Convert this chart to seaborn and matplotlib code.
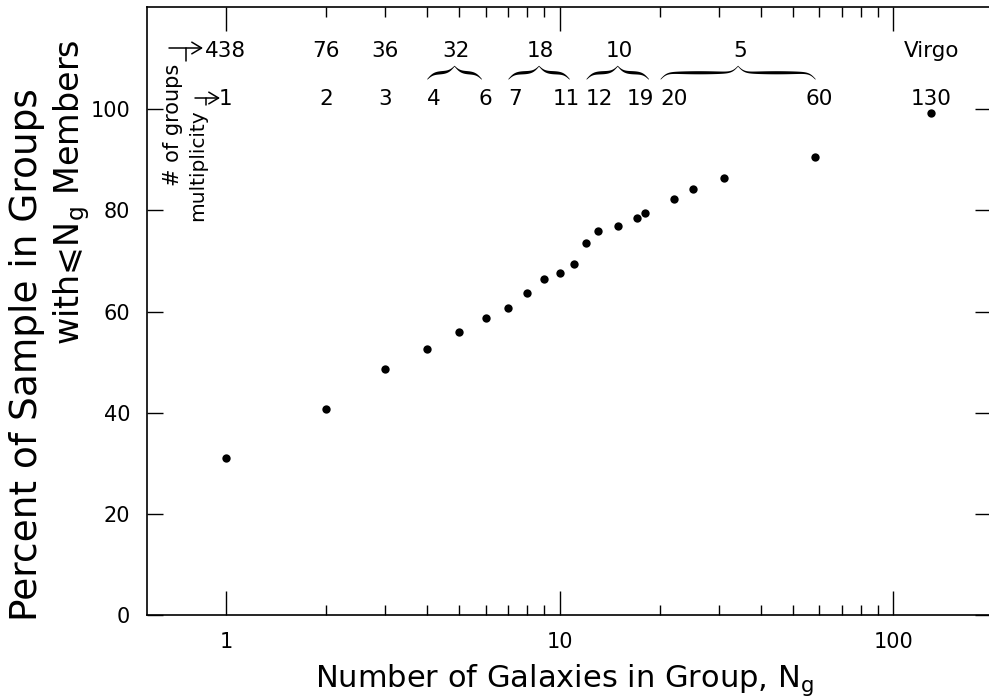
import numpy as np
import pandas as pd
import matplotlib
matplotlib.use("Agg")
import matplotlib.pyplot as plt
import seaborn as sns
from matplotlib.lines import Line2D
from matplotlib.patches import FancyArrowPatch

# Cumulative fraction of the sample in groups with <= Ng members
group_size = [1, 2, 3, 4, 5, 6, 7, 8, 9, 10, 11, 12, 13, 15, 17, 18, 22, 25, 31, 58, 130]
cum_percent = [31.0, 40.8, 48.7, 52.6, 55.9, 58.8, 60.7, 63.6, 66.5, 67.7, 69.4,
               73.6, 76.0, 77.0, 78.5, 79.5, 82.3, 84.3, 86.4, 90.5, 99.2]

# Number of groups in each multiplicity bin
bin_counts = ["438", "76", "36", "32", "18", "10", "5", "Virgo"]
bin_low = [1, 2, 3, 4, 7, 12, 20, 130]
bin_high = [1, 2, 3, 6, 11, 19, 60, 130]

x_ticks = [1, 10, 100]
x_tick_labels = ["1", "10", "100"]
x_minor = [2, 3, 4, 5, 6, 7, 8, 9, 20, 30, 40, 50, 60, 70, 80, 90]
y_ticks = [0, 20, 40, 60, 80, 100]
y_tick_labels = ["0", "20", "40", "60", "80", "100"]

sns.set_style("ticks")
plt.rcParams["font.family"] = ["DejaVu Sans"]
plt.rcParams["mathtext.fontset"] = "dejavusans"
plt.rcParams["text.color"] = "black"
plt.rcParams["axes.labelcolor"] = "black"
plt.rcParams["axes.edgecolor"] = "black"
plt.rcParams["xtick.color"] = "black"
plt.rcParams["ytick.color"] = "black"

W, H = 989, 700
fig = plt.figure(figsize=(W / 100, H / 100), dpi=100)
fig.patch.set_facecolor("white")
ax = fig.add_axes([147 / W, 85 / H, (991 - 147) / W, 608 / H])

df = pd.DataFrame({"Ng": group_size, "pct": cum_percent})
sns.scatterplot(data=df, x="Ng", y="pct", color="black", s=36, linewidth=0, ax=ax)

ax.set_xscale("log")
ax.set_xlim(0.58, 196)
ax.set_ylim(0, 120.2)

ax.set_xticks(x_ticks)
ax.set_xticklabels(x_tick_labels)
ax.set_xticks(x_minor, minor=True)
ax.set_xticklabels([], minor=True)
ax.set_yticks(y_ticks)
ax.set_yticklabels(y_tick_labels)
ax.yaxis.set_minor_locator(matplotlib.ticker.NullLocator())

for sp in ax.spines.values():
    sp.set_linewidth(1.2)
    sp.set_color("black")

ax.xaxis.set_tick_params(which="major", direction="in", length=17.5, width=1.0,
                         top=True, bottom=True, pad=12, labelsize=15)
ax.xaxis.set_tick_params(which="minor", direction="in", length=7, width=1.0,
                         top=True, bottom=True)
ax.yaxis.set_tick_params(which="major", direction="in", length=11.5, width=1.0,
                         left=True, right=True, pad=12, labelsize=15)

ax.set_xlabel("Number of Galaxies in Group, N$_{\\mathregular{g}}$", fontsize=22)
ax.xaxis.set_label_coords(0.495, -0.107)
ax.xaxis.label.set_va("center")

ax.set_ylabel("Percent of Sample in Groups", fontsize=27)
ax.yaxis.set_label_coords(-0.142, 0.4276)
ax.yaxis.label.set_va("center")
ax.text(-0.089, 0.695, "with\u2a7dN$_{\\mathregular{g}}$ Members", fontsize=24,
        rotation=90, ha="center", va="center", transform=ax.transAxes, clip_on=False)

# Group counts and multiplicity ranges along the top
row_count_y = 110.3
row_mult_y = 100.8
label_fs = 15.5
hi_labels = []
for cnt, lo, hi in zip(bin_counts, bin_low, bin_high):
    xc = np.sqrt(lo * hi)
    ax.text(xc, row_count_y, cnt, fontsize=label_fs, ha="center", va="baseline")
    if lo == hi:
        ax.text(lo, row_mult_y, str(lo), fontsize=label_fs, ha="center", va="baseline")
    else:
        ax.text(lo, row_mult_y, str(lo), fontsize=label_fs, ha="left", va="baseline")
        hi_labels.append(ax.text(hi, row_mult_y, str(hi), fontsize=label_fs,
                                 ha="center", va="baseline"))

# keep each range's upper label clear of the next range's lower label
fig.canvas.draw()
renderer = fig.canvas.get_renderer()
for t in hi_labels:
    hi = float(t.get_text())
    nxt = [lo for lo in bin_low if lo > hi]
    if not nxt:
        continue
    limit_px = ax.transData.transform((min(nxt), 0))[0] - 6
    bb = t.get_window_extent(renderer)
    if bb.x1 > limit_px:
        xdata = ax.transData.inverted().transform((limit_px, 0))[0]
        t.set_x(xdata)
        t.set_ha("right")


def draw_brace(lo, hi, y_arm, h=2.6, tmin=0.18, tmax=0.62):
    u = np.linspace(np.log10(lo), np.log10(hi), 401)
    s = (u - u[0]) / (u[-1] - u[0])
    x0 = ax.transData.transform((lo, 0))[0]
    x1 = ax.transData.transform((hi, 0))[0]
    beta = 0.32 * (x1 - x0)
    sh = np.minimum(s, 1 - s)
    yh = 1 / (1 + np.exp(-beta * sh)) + 1 / (1 + np.exp(-beta * (sh - 0.5)))
    y = y_arm + (yh - 1) * h
    thick = tmin + (tmax - tmin) * np.sin(np.pi * sh / 0.5)
    ax.fill_between(10 ** u, y - thick / 2, y + thick / 2, color="black", lw=0)


for lo, hi in zip(bin_low, bin_high):
    if lo != hi:
        draw_brace(lo, hi * 0.97, 107.3)


# Row captions with bracket arrows
def fp(x, y):
    return (x / W, 1 - y / H)


fig.text(*fp(173, 125), "# of groups", rotation=90, ha="center", va="center", fontsize=15)
fig.text(*fp(198, 165), "multiplicity", rotation=90, ha="center", va="center", fontsize=14.5)

for (xa, xc, ya, yt, xe) in [(169, 186, 48, 61, 203), (195, 206, 98, 105, 220)]:
    pts = [fp(xa, ya), fp(xc, ya), fp(xc, yt)]
    fig.add_artist(Line2D([p[0] for p in pts], [p[1] for p in pts],
                          transform=fig.transFigure, color="black", lw=1.1))
    fig.add_artist(FancyArrowPatch(fp(xc, ya), fp(xe, ya), transform=fig.transFigure,
                                   arrowstyle="->,head_length=0.5,head_width=0.3",
                                   mutation_scale=14, color="black", lw=1.1,
                                   shrinkA=0, shrinkB=0))

fig.savefig("out.png", dpi=100, facecolor="white")
